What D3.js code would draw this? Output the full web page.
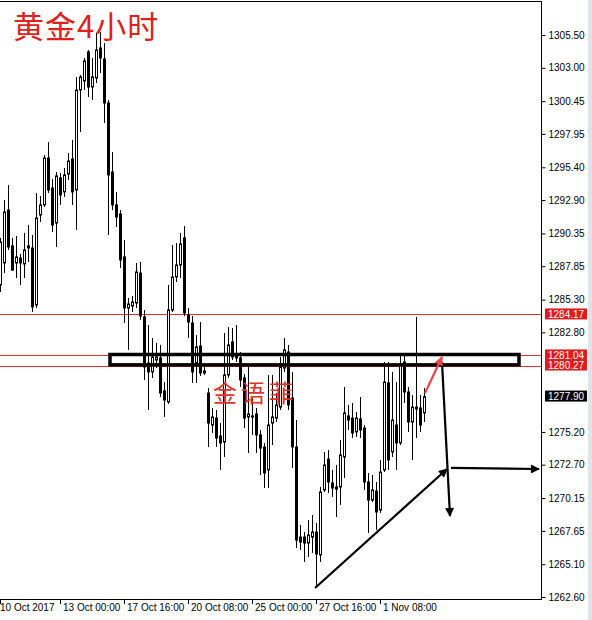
<!DOCTYPE html>
<html><head><meta charset="utf-8">
<script src="https://d3js.org/d3.v7.min.js"></script>
<style>body{margin:0;background:#fff}svg{display:block}</style>
</head><body><div id="c"></div>
<script>
// ---- data (XAUUSD H4) ----
const opens = [1286.42,1288.10,1292.14,1289.40,1288.10,1288.48,1288.02,1289.40,1289.24,1284.89,1291.76,1292.53,1296.11,1293.82,1291.15,1294.59,1293.52,1294.89,1296.04,1293.67,1301.30,1301.99,1304.21,1301.53,1302.22,1304.51,1303.67,1300.31,1295.04,1292.53,1291.84,1288.56,1284.66,1284.81,1285.04,1287.33,1283.98,1280.46,1279.78,1280.69,1280.85,1278.33,1277.49,1284.51,1287.03,1287.94,1290.01,1284.13,1283.52,1280.46,1281.76,1279.85,1278.17,1275.73,1276.26,1274.89,1274.43,1279.55,1282.07,1281.07,1280.85,1279.32,1276.34,1276.42,1276.57,1274.97,1274.05,1272.30,1275.88,1276.26,1277.10,1280.08,1281.30,1277.79,1274.05,1267.18,1267.18,1266.72,1267.18,1267.56,1265.81,1270.77,1273.13,1271.30,1271.00,1271.00,1273.29,1276.42,1276.26,1275.20,1276.19,1275.50,1271.38,1270.00,1270.69,1269.24,1272.30,1278.94,1273.67,1275.73,1274.36,1280.54,1278.25,1275.96,1277.10,1277.03,1276.65];
const highs = [1290.01,1292.91,1294.05,1290.01,1290.16,1288.78,1290.39,1291.00,1290.24,1293.44,1293.21,1296.34,1297.33,1294.51,1295.04,1294.97,1295.35,1296.49,1297.49,1302.30,1302.45,1303.75,1304.36,1303.75,1305.66,1305.73,1304.89,1300.54,1296.57,1293.52,1292.14,1289.85,1285.43,1285.58,1288.10,1288.17,1284.51,1283.36,1282.37,1281.99,1281.84,1279.01,1286.42,1289.47,1289.62,1290.39,1290.92,1284.66,1284.05,1282.60,1283.59,1280.31,1278.55,1277.03,1276.88,1275.88,1282.75,1283.21,1283.14,1283.36,1281.30,1279.62,1280.31,1277.79,1277.03,1275.35,1274.36,1279.55,1279.55,1278.17,1280.92,1282.37,1281.84,1279.78,1276.11,1268.10,1267.56,1268.48,1268.86,1268.25,1271.00,1273.67,1273.82,1272.30,1272.68,1274.59,1278.63,1277.26,1277.41,1276.72,1277.87,1275.73,1272.07,1271.91,1271.38,1273.06,1280.54,1280.54,1279.78,1279.01,1281.07,1281.00,1278.63,1278.02,1283.98,1278.02,1278.55];
const lows = [1285.88,1287.33,1289.09,1287.49,1286.95,1286.42,1286.95,1288.17,1284.36,1284.66,1291.23,1292.37,1293.44,1290.46,1289.32,1292.53,1293.14,1294.43,1292.53,1290.62,1298.10,1301.30,1300.77,1300.54,1301.84,1302.60,1298.79,1290.24,1292.14,1290.85,1287.72,1283.52,1281.46,1284.36,1284.66,1283.75,1279.17,1276.88,1279.32,1280.08,1277.87,1276.34,1277.33,1284.36,1286.65,1286.95,1284.05,1282.37,1278.94,1278.94,1279.47,1279.55,1274.05,1275.12,1274.05,1272.30,1273.29,1279.32,1280.69,1280.54,1278.63,1275.50,1273.59,1274.97,1273.59,1271.91,1270.92,1270.92,1274.20,1275.96,1276.88,1279.78,1276.88,1272.45,1266.34,1266.19,1265.27,1265.65,1265.96,1263.36,1265.27,1270.62,1270.54,1270.23,1268.71,1269.62,1271.68,1275.35,1274.74,1274.81,1274.74,1270.77,1267.49,1269.85,1267.71,1269.01,1272.14,1272.30,1273.29,1272.30,1274.20,1277.41,1275.20,1273.06,1274.74,1275.20,1275.96];
const closes = [1289.70,1291.99,1289.32,1287.56,1288.56,1288.10,1289.09,1289.24,1284.74,1291.53,1292.53,1296.11,1293.67,1291.00,1294.74,1293.29,1294.82,1295.88,1293.52,1301.30,1302.30,1303.52,1301.53,1302.30,1304.36,1303.75,1300.31,1294.82,1292.53,1291.61,1288.33,1284.66,1284.97,1285.12,1287.41,1284.05,1280.16,1279.78,1280.92,1280.92,1278.17,1277.64,1284.51,1287.03,1287.94,1289.55,1284.28,1283.59,1279.78,1281.69,1279.70,1279.70,1275.88,1276.34,1274.74,1274.36,1279.55,1281.84,1280.92,1280.85,1279.17,1276.26,1276.57,1276.34,1274.97,1273.97,1272.07,1275.73,1276.34,1277.26,1280.16,1281.46,1277.26,1274.05,1266.95,1266.80,1266.72,1267.33,1267.56,1265.88,1270.62,1272.68,1271.38,1270.92,1270.84,1273.44,1276.65,1276.11,1275.12,1276.26,1275.35,1271.38,1270.00,1270.77,1269.09,1272.14,1279.01,1273.06,1276.11,1274.36,1280.31,1278.25,1275.96,1277.10,1276.95,1275.73,1277.90];

const yTicks = [1305.50,1303.00,1300.45,1297.95,1295.40,1292.90,1290.35,1287.85,1285.30,1282.80,1275.20,1272.70,1270.15,1267.65,1265.10,1262.60];
const xTickLabels = ["10 Oct 2017","13 Oct 00:00","17 Oct 16:00","20 Oct 08:00","25 Oct 00:00","27 Oct 16:00","1 Nov 08:00"];
const xTickBars = [0,15,31,47,63,79,95];
const redLevels = [1284.17,1281.04,1280.27];
const lastPrice = 1277.90;

const titleText = "黄金4小时";
const watermark = "金语菲";

// annotations in data units: [barIndex, price]
const zoneBox = {i0:27.5, i1:129.75, p0:1281.11, p1:1280.32};
const blackArrows = [
  [[78.75,1263.29],[111.75,1272.37]],
  [[112.75,1272.45],[134.75,1272.37]],
  [[110.5,1280.54],[112.5,1268.78]]
];
const redArrows = [[[106.25,1278.17],[110.5,1280.92]]];

// ---- drawing ----
const W=592,H=620;
const svg = d3.select("#c").append("svg").attr("width",W).attr("height",H)
  .style("font-family","'Liberation Sans', Arial, sans-serif");
svg.append("rect").attr("width",W).attr("height",H).attr("fill","#fff");

const x = d3.scaleLinear().domain([0,135]).range([0,540]);
const y = d3.scaleLinear().domain([1262.60,1305.50]).range([597,35]);

// right grey strip
svg.append("rect").attr("x",588).attr("y",0).attr("width",4).attr("height",H).attr("fill","#dfe3ea");

// red level lines
svg.selectAll("line.lvl").data(redLevels).join("line").attr("class","lvl")
  .attr("x1",0).attr("x2",541).attr("y1",d=>Math.round(y(d))+0.5).attr("y2",d=>Math.round(y(d))+0.5)
  .attr("stroke","#e3322b").attr("stroke-width",1);

// candles
const N = opens.length;
const idx = d3.range(N);
const g = svg.append("g");
g.selectAll("line.wick").data(idx).join("line").attr("class","wick")
  .attr("x1",i=>Math.round(x(i))+0.5).attr("x2",i=>Math.round(x(i))+0.5)
  .attr("y1",i=>y(highs[i])).attr("y2",i=>y(lows[i]))
  .attr("stroke","#000").attr("stroke-width",1);
g.selectAll("rect.body").data(idx).join("rect").attr("class","body")
  .attr("x",i=>Math.round(x(i))-0.5).attr("width",2)
  .attr("y",i=>y(Math.max(opens[i],closes[i])))
  .attr("height",i=>Math.max(0.6,Math.abs(y(opens[i])-y(closes[i]))))
  .attr("fill",i=>closes[i]>=opens[i]?"#fff":"#000")
  .attr("stroke","#000").attr("stroke-width",1);

// frame
svg.append("line").attr("x1",0).attr("x2",541).attr("y1",1.5).attr("y2",1.5).attr("stroke","#000");
svg.append("line").attr("x1",541.5).attr("x2",541.5).attr("y1",1).attr("y2",600).attr("stroke","#000");
svg.append("line").attr("x1",0).attr("x2",541).attr("y1",599.5).attr("y2",599.5).attr("stroke","#000");

// y axis
const ya = svg.append("g").attr("transform","translate(541.5,0)")
  .call(d3.axisRight(y).tickValues(yTicks).tickFormat(d3.format(".2f")).tickSize(4).tickPadding(3));
ya.select(".domain").remove();
ya.selectAll("text").attr("font-size",10).attr("fill","#000").style("font-family","'Liberation Sans', Arial, sans-serif");
ya.selectAll("line").attr("stroke","#000");

// level labels
const lab = svg.append("g");
const labels = redLevels.map(v=>({v,bg:"#e11b1b"})).concat([{v:lastPrice,bg:"#000"}]);
lab.selectAll("rect").data(labels).join("rect")
  .attr("x",545).attr("width",42).attr("y",d=>y(d.v)-6).attr("height",11).attr("fill",d=>d.bg);
lab.selectAll("text").data(labels).join("text")
  .attr("x",548).attr("y",d=>y(d.v)).attr("dy","0.35em").attr("font-size",10).attr("fill","#fff")
  .text(d=>d3.format(".2f")(d.v));

// x axis
const xg = svg.append("g");
xg.selectAll("line").data(xTickBars).join("line")
  .attr("x1",d=>Math.round(x(d))+0.5).attr("x2",d=>Math.round(x(d))+0.5).attr("y1",600).attr("y2",604).attr("stroke","#000");
xg.selectAll("text").data(xTickBars).join("text")
  .attr("x",(d,k)=>k===0?0:x(d)+3).attr("y",611).attr("font-size",10).attr("fill","#000")
  .text((d,k)=>xTickLabels[k]);

// zone rectangle
svg.append("rect").attr("x",x(zoneBox.i0)).attr("y",y(zoneBox.p0))
  .attr("width",x(zoneBox.i1)-x(zoneBox.i0)).attr("height",y(zoneBox.p1)-y(zoneBox.p0))
  .attr("fill","none").attr("stroke","#000").attr("stroke-width",3.5);

// arrows
const defs = svg.append("defs");
function marker(id,color){
  defs.append("marker").attr("id",id).attr("viewBox","0 0 10 10").attr("refX",9).attr("refY",5)
    .attr("markerWidth",11).attr("markerHeight",9).attr("markerUnits","userSpaceOnUse").attr("orient","auto")
    .append("path").attr("d","M0,0L10,5L0,10Z").attr("fill",color);
}
marker("ab","#000"); marker("ar","#e8474c");
svg.selectAll("line.ba").data(blackArrows).join("line").attr("class","ba")
  .attr("x1",d=>x(d[0][0])).attr("y1",d=>y(d[0][1])).attr("x2",d=>x(d[1][0])).attr("y2",d=>y(d[1][1]))
  .attr("stroke","#000").attr("stroke-width",2.2).attr("marker-end","url(#ab)");
svg.selectAll("line.ra").data(redArrows).join("line").attr("class","ra")
  .attr("x1",d=>x(d[0][0])).attr("y1",d=>y(d[0][1])).attr("x2",d=>x(d[1][0])).attr("y2",d=>y(d[1][1]))
  .attr("stroke","#e8474c").attr("stroke-width",2.2).attr("marker-end","url(#ar)");

// texts
svg.append("text").attr("x",13).attr("y",38).attr("font-size",31).attr("fill","#e0201b")
  .style("font-family","'Noto Sans CJK SC', sans-serif").attr("letter-spacing",1).text(titleText);
svg.append("text").attr("x",213).attr("y",402).attr("font-size",24).attr("fill","#e2312b")
  .style("font-family","'Noto Sans CJK SC', sans-serif").attr("letter-spacing",4).text(watermark);
</script></body></html>
